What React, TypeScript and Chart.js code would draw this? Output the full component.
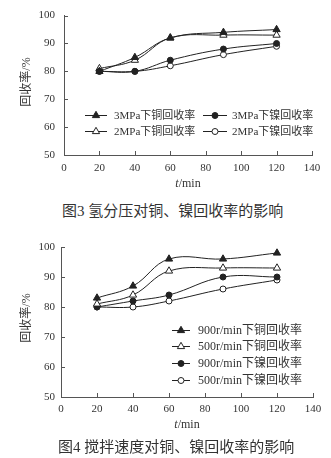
import React, { useEffect, useRef } from 'react';
import { Chart, registerables } from 'chart.js';

Chart.register(...registerables);

// ---------- data ----------
const times = [20, 40, 60, 90, 120];
const xMin = 0;
const xMax = 140;
const xStep = 20;
const yMin = 50;
const yMax = 100;
const yStep = 10;

const fig3Names = ['3MPa下铜回收率', '3MPa下镍回收率', '2MPa下铜回收率', '2MPa下镍回收率'];
const cu3MPa = [80, 85, 92, 94, 95];
const ni3MPa = [80, 80, 84, 88, 90];
const cu2MPa = [81, 84, 92, 93, 93];
const ni2MPa = [80, 80, 82, 86, 89];

const fig4Names = ['900r/min下铜回收率', '500r/min下铜回收率', '900r/min下镍回收率', '500r/min下镍回收率'];
const cu900 = [83, 87, 96, 96, 98];
const cu500 = [81, 84, 92, 93, 93];
const ni900 = [80, 82, 84, 90, 90];
const ni500 = [80, 80, 82, 86, 89];

const yTitle = '回收率/%';
const xTitleItalic = 't';
const xTitleRest = '/min';
const caption3 = '图3 氢分压对铜、镍回收率的影响';
const caption4 = '图4 搅拌速度对铜、镍回收率的影响';

// ---------- styles ----------
const INK = '#222';
const AXIS = '#555';
const TEXT = '#333';
const SERIF = '"Liberation Serif", "Noto Sans CJK SC", serif';

type Mk = { style: 'triangle' | 'circle'; filled: boolean };
const FILLED_TRI: Mk = { style: 'triangle', filled: true };
const OPEN_TRI: Mk = { style: 'triangle', filled: false };
const FILLED_CIR: Mk = { style: 'circle', filled: true };
const OPEN_CIR: Mk = { style: 'circle', filled: false };

function drawMarker(ctx: CanvasRenderingContext2D, m: Mk, x: number, y: number) {
  ctx.save();
  ctx.beginPath();
  if (m.style === 'triangle') {
    const r = 4.2;
    let rad = 0;
    ctx.moveTo(x + Math.sin(rad) * r, y - Math.cos(rad) * r);
    rad += (2 * Math.PI) / 3;
    ctx.lineTo(x + Math.sin(rad) * r, y - Math.cos(rad) * r);
    rad += (2 * Math.PI) / 3;
    ctx.lineTo(x + Math.sin(rad) * r, y - Math.cos(rad) * r);
    ctx.closePath();
  } else {
    ctx.arc(x, y, 3, 0, Math.PI * 2);
  }
  ctx.fillStyle = m.filled ? INK : '#fff';
  ctx.strokeStyle = INK;
  ctx.lineWidth = 1;
  ctx.fill();
  ctx.stroke();
  ctx.restore();
}

type LegendLayout = { x: number; y: number; lineLen: number; textGap: number; font: number }[];

function makeDatasets(names: string[], series: number[][], markers: Mk[]) {
  return names.map((name, i) => ({
    label: name,
    data: times.map((t, j) => ({ x: t, y: series[i][j] })),
    borderColor: INK,
    borderWidth: 1,
    tension: 0.4,
    pointStyle: markers[i].style,
    pointRadius: markers[i].style === 'triangle' ? 4.2 : 3,
    pointBackgroundColor: markers[i].filled ? INK : '#fff',
    pointBorderColor: INK,
    pointBorderWidth: 1,
    fill: false,
  }));
}

type Cfg = {
  names: string[];
  series: number[][];
  markers: Mk[];
  padTop: number;
  padRight: number;
  yWidth: number;
  xHeight: number;
  yPad: number;
  xPad: number;
  legend: LegendLayout;
  yTitleX: number;
  yTitleY: number;
  xTitleY: number;
};

function ChartBox({ cfg, width, height }: { cfg: Cfg; width: number; height: number }) {
  const ref = useRef<HTMLCanvasElement | null>(null);
  useEffect(() => {
    if (!ref.current) return;
    const overlay = {
      id: 'overlay',
      afterDraw(chart: any) {
        const ctx: CanvasRenderingContext2D = chart.ctx;
        const ca = chart.chartArea;
        const xs = chart.scales.x;
        const ys = chart.scales.y;
        ctx.save();
        // inward ticks
        ctx.strokeStyle = AXIS;
        ctx.lineWidth = 1;
        ctx.beginPath();
        for (let v = xMin; v <= xMax; v += xStep) {
          const px = Math.round(xs.getPixelForValue(v)) + 0.5;
          ctx.moveTo(px, ca.bottom);
          ctx.lineTo(px, ca.bottom - 4);
        }
        for (let v = yMin; v <= yMax; v += yStep) {
          const py = Math.round(ys.getPixelForValue(v)) + 0.5;
          ctx.moveTo(ca.left, py);
          ctx.lineTo(ca.left + 4, py);
        }
        ctx.stroke();
        // y title
        ctx.fillStyle = TEXT;
        ctx.font = `12px ${SERIF}`;
        ctx.textAlign = 'center';
        ctx.textBaseline = 'middle';
        ctx.save();
        ctx.translate(cfg.yTitleX, cfg.yTitleY);
        ctx.rotate(-Math.PI / 2);
        ctx.fillText(yTitle, 0, 0);
        ctx.restore();
        // x title
        const cx = (ca.left + ca.right) / 2;
        ctx.textAlign = 'left';
        ctx.font = `italic 12px ${SERIF}`;
        const w1 = ctx.measureText(xTitleItalic).width;
        ctx.font = `12px ${SERIF}`;
        const w2 = ctx.measureText(xTitleRest).width;
        const sx = cx - (w1 + w2) / 2;
        ctx.font = `italic 12px ${SERIF}`;
        ctx.fillText(xTitleItalic, sx, cfg.xTitleY);
        ctx.font = `12px ${SERIF}`;
        ctx.fillText(xTitleRest, sx + w1, cfg.xTitleY);
        // legend
        cfg.legend.forEach((L, i) => {
          ctx.strokeStyle = INK;
          ctx.lineWidth = 1;
          ctx.beginPath();
          ctx.moveTo(L.x, L.y + 0.5);
          ctx.lineTo(L.x + L.lineLen, L.y + 0.5);
          ctx.stroke();
          drawMarker(ctx, cfg.markers[i], L.x + L.lineLen / 2, L.y + 0.5);
          ctx.fillStyle = TEXT;
          ctx.font = `${L.font}px ${SERIF}`;
          ctx.textAlign = 'left';
          ctx.textBaseline = 'middle';
          ctx.fillText(cfg.names[i], L.x + L.lineLen + L.textGap, L.y + 1);
        });
        ctx.restore();
      },
    };
    const chart = new Chart(ref.current, {
      type: 'line',
      data: { datasets: makeDatasets(cfg.names, cfg.series, cfg.markers) as any },
      options: {
        animation: false,
        responsive: false,
        maintainAspectRatio: false,
        layout: { padding: { left: 0, right: cfg.padRight, top: cfg.padTop, bottom: 0 } },
        plugins: { legend: { display: false }, tooltip: { enabled: false }, title: { display: false } },
        scales: {
          x: {
            type: 'linear',
            min: xMin,
            max: xMax,
            afterFit: (s: any) => { s.height = cfg.xHeight; },
            ticks: { stepSize: xStep, color: TEXT, font: { family: SERIF, size: 11 }, padding: cfg.xPad, maxRotation: 0 },
            grid: { drawOnChartArea: false, drawTicks: false },
            border: { display: true, color: AXIS, width: 1 },
          },
          y: {
            type: 'linear',
            min: yMin,
            max: yMax,
            afterFit: (s: any) => { s.width = cfg.yWidth; },
            ticks: { stepSize: yStep, color: TEXT, font: { family: SERIF, size: 11 }, padding: cfg.yPad },
            grid: { drawOnChartArea: false, drawTicks: false },
            border: { display: true, color: AXIS, width: 1 },
          },
        },
      },
      plugins: [overlay],
    });
    return () => chart.destroy();
  }, [cfg]);
  return <canvas ref={ref} width={width} height={height} style={{ display: 'block' }} />;
}

const cfg3: Cfg = {
  names: fig3Names,
  series: [cu3MPa, ni3MPa, cu2MPa, ni2MPa],
  markers: [FILLED_TRI, FILLED_CIR, OPEN_TRI, OPEN_CIR],
  padTop: 10,
  padRight: 19,
  yWidth: 64,
  xHeight: 45,
  yPad: 9,
  xPad: 7,
  legend: [
    { x: 85, y: 115, lineLen: 22, textGap: 7, font: 11 },
    { x: 203, y: 115, lineLen: 24, textGap: 5, font: 11 },
    { x: 85, y: 131, lineLen: 22, textGap: 7, font: 11 },
    { x: 203, y: 131, lineLen: 24, textGap: 5, font: 11 },
  ],
  yTitleX: 27,
  yTitleY: 82,
  xTitleY: 184,
};

const cfg4: Cfg = {
  names: fig4Names,
  series: [cu900, cu500, ni900, ni500],
  markers: [FILLED_TRI, OPEN_TRI, FILLED_CIR, OPEN_CIR],
  padTop: 19,
  padRight: 18,
  yWidth: 61,
  xHeight: 43,
  yPad: 6,
  xPad: 6,
  legend: [
    { x: 172, y: 102, lineLen: 18, textGap: 8, font: 12 },
    { x: 172, y: 118, lineLen: 18, textGap: 8, font: 12 },
    { x: 172, y: 135, lineLen: 18, textGap: 8, font: 12 },
    { x: 172, y: 152, lineLen: 18, textGap: 8, font: 12 },
  ],
  yTitleX: 27,
  yTitleY: 90,
  xTitleY: 197,
};

export default function App() {
  return (
    <div style={{ position: 'absolute', left: 0, top: 0, width: 331, height: 458, background: '#fff', overflow: 'hidden' }}>
      <div style={{ position: 'absolute', left: 0, top: 0 }}>
        <ChartBox cfg={cfg3} width={331} height={200} />
      </div>
      <div style={{ position: 'absolute', left: 62, top: 203, fontFamily: SERIF, fontSize: 15, lineHeight: '16px', color: TEXT, whiteSpace: 'nowrap' }}>
        {caption3}
      </div>
      <div style={{ position: 'absolute', left: 0, top: 228 }}>
        <ChartBox cfg={cfg4} width={331} height={212} />
      </div>
      <div style={{ position: 'absolute', left: 58, top: 439, fontFamily: SERIF, fontSize: 15, lineHeight: '16px', color: TEXT, whiteSpace: 'nowrap' }}>
        {caption4}
      </div>
    </div>
  );
}
